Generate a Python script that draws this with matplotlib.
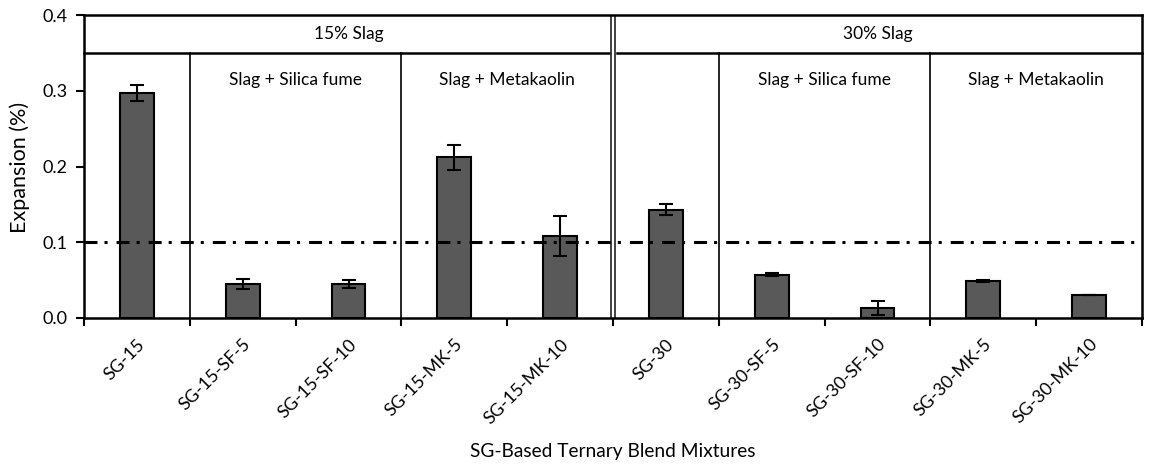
import matplotlib
matplotlib.use("Agg")
import matplotlib.pyplot as plt
import numpy as np

categories = ["SG-15", "SG-15-SF-5", "SG-15-SF-10", "SG-15-MK-5", "SG-15-MK-10",
              "SG-30", "SG-30-SF-5", "SG-30-SF-10", "SG-30-MK-5", "SG-30-MK-10"]
expansion = [0.297, 0.045, 0.045, 0.212, 0.108, 0.143, 0.057, 0.013, 0.049, 0.030]
errors = [0.010, 0.007, 0.005, 0.016, 0.026, 0.0075, 0.002, 0.009, 0.001, 0.0]
group_titles = ["15% Slag", "30% Slag"]
sub_titles = ["Slag + Silica fume", "Slag + Metakaolin", "Slag + Silica fume", "Slag + Metakaolin"]
limit = 0.1

plt.rcParams['font.family'] = ['Lato', 'DejaVu Sans']

fig = plt.figure(figsize=(11.52, 4.65), dpi=100)
ax = fig.add_axes([84/1152, 1-318/465, (1142-84)/1152, (318-15)/465])

x = np.arange(len(categories))
ax.bar(x, expansion, width=0.32, color='#595959', edgecolor='black', linewidth=1.5, zorder=3)
ax.errorbar(x, expansion, yerr=errors, fmt='none', ecolor='black', elinewidth=1.5,
            capsize=5, capthick=1.5, zorder=4)

ax.set_xlim(-0.5, 9.5)
ax.set_ylim(0, 0.4)

# threshold line
ax.axhline(limit, color='black', lw=2.2, linestyle=(0, (4.25, 2.3, 1.0, 2.95)), zorder=5)

# separators
hdr = 0.35
ax.plot([-0.5, 4.47], [hdr, hdr], color='black', lw=1.8, zorder=2, clip_on=False)
ax.plot([4.54, 9.5], [hdr, hdr], color='black', lw=1.8, zorder=2, clip_on=False)
for xv in [0.5, 2.5, 5.5, 7.5]:
    ax.plot([xv, xv], [0, hdr], color='black', lw=1.2, zorder=2)
for xv in [4.48, 4.52]:
    ax.plot([xv, xv], [0, 0.4], color='#333333', lw=1.3, zorder=2)

ax.text(2.0, 0.375, group_titles[0], ha='center', va='center', fontsize=12.5)
ax.text(7.0, 0.375, group_titles[1], ha='center', va='center', fontsize=12.5)
for cx, t in zip([1.5, 3.5, 6.5, 8.5], sub_titles):
    ax.text(cx, 0.314, t, ha='center', va='center', fontsize=12.5)

# ticks
ax.set_xticks(x)
ax.set_xticklabels(categories, rotation=45, ha='right', rotation_mode='anchor', fontsize=12.8)
ax.tick_params(axis='x', which='major', length=0, pad=13)
ax.set_xticks(np.arange(-0.5, 10, 1.0), minor=True)
ax.tick_params(axis='x', which='minor', length=6, width=1.5, direction='out')
ax.set_yticks([0, 0.1, 0.2, 0.3, 0.4])
ax.set_yticklabels([f"{v:.1f}" for v in [0, 0.1, 0.2, 0.3, 0.4]], fontsize=13)
ax.tick_params(axis='y', length=6, width=1.5, direction='out', pad=6)

for s in ax.spines.values():
    s.set_linewidth(1.8)

fig.text(20/1152, 1-167/465, "Expansion (%)", rotation=90, ha='center', va='center', fontsize=15.5)
fig.text((84+1142)/2/1152, 1-451/465, "SG-Based Ternary Blend Mixtures", ha='center', va='center', fontsize=13.8)

fig.savefig("out.png", dpi=100)
